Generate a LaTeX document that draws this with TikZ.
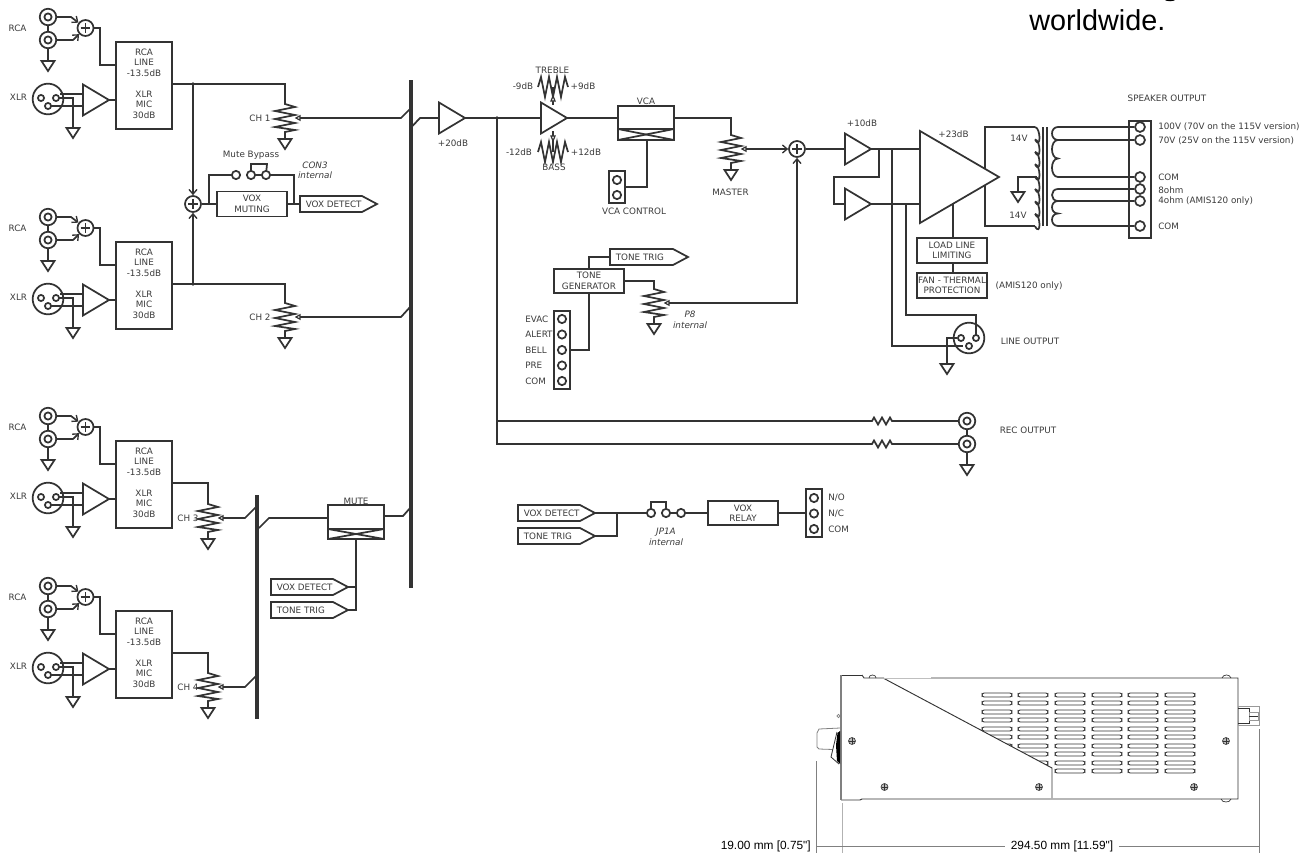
\documentclass[tikz,border=0pt]{standalone}
\usepackage{fontspec}
\setmainfont{DejaVu Sans}
\newfontfamily\arialf{Liberation Sans}
\usetikzlibrary{arrows.meta,calc}
\definecolor{ink}{HTML}{333333}
\definecolor{txt}{HTML}{3a3a3a}
\tikzset{
  wire/.style={draw=ink,line width=1.3pt,line join=miter},
  inarrow/.style={wire,-{Straight Barb[length=3.5pt,width=6pt,line width=1pt]}},
  lbl/.style={font=\fontsize{6.6}{7.9}\selectfont,text=txt,inner sep=0pt,align=center},
  lblw/.style={lbl,anchor=west,align=left},
  ital/.style={lbl,font=\fontsize{6.6}{7.9}\selectfont\itshape},
  blk/.style={wire,fill=white,inner sep=0pt,align=center,text=txt,font=\fontsize{6.6}{7.9}\selectfont},
  bus/.style={draw=ink,line width=2.6pt},
  pinc/.style={circle,wire,fill=white,minimum size=6.2pt,inner sep=0pt},
  term/.style={circle,wire,fill=white,minimum size=7.4pt,inner sep=0pt},
  jout/.style={circle,wire,fill=white,minimum size=12.4pt,inner sep=0pt},
  jin/.style={circle,wire,fill=white,minimum size=5.4pt,inner sep=0pt},
  xlrb/.style={circle,wire,fill=white,minimum size=23pt,inner sep=0pt},
  xpin/.style={circle,wire,fill=white,minimum size=4.6pt,inner sep=0pt},
  sumj/.style={circle,wire,fill=white,minimum size=12pt,inner sep=0pt,
    path picture={\draw[wire] ($(path picture bounding box.center)+(-3.6pt,0)$)--($(path picture bounding box.center)+(3.6pt,0)$);
                  \draw[wire] ($(path picture bounding box.center)+(0,-3.6pt)$)--($(path picture bounding box.center)+(0,3.6pt)$);}},
  dots/.style={circle,fill=ink,minimum size=2.8pt,inner sep=0pt},
  pics/gnd/.style={code={
    \coordinate (top) at (0,0);
    \draw[wire,fill=white] (-6.5,0)--(6.5,0)--(0,10)--cycle;}},
  pics/jack/.style={code={
    \node[jout] (o) at (0,0) {};
    \node[jin] (i) at (0,0) {};}},
  pics/amp/.style={code={
    \draw[wire,fill=white] (0,-15.5)--(0,15.5)--(26,0)--cycle;
    \coordinate (in) at (0,0);
    \coordinate (out) at (26,0);}},
  pics/pot/.style={code={
    \draw[wire] (0,-16)--(0,-14)--(10,-11)--(-10,-7)--(10,-3)--(-10,1)--(10,5)--(-10,9)--(10,12)--(0,14)--(0,21);
    \coordinate (top) at (0,-16);
    \draw[wire,line width=.9pt,fill=white] (11,0)--(15,-2.2)--(15,2.2)--cycle;
    \coordinate (wiper) at (15,0);
    \draw[wire,fill=white] (-6.5,21)--(6.5,21)--(0,31)--cycle;}},
  pics/hzig/.style={code={
    \draw[wire] (-15,#1)--(-12,-10)--(-8,10)--(-4,-10)--(0,10)--(4,-10)--(8,10)--(12,-10)--(15,#1);}},
  pics/tag/.style 2 args={code={
    \draw[wire,fill=white] (0,-8)--(#1,-8)--({#1+15},0)--(#1,8)--(0,8)--cycle;
    \coordinate (tip) at ({#1+15},0);
    \coordinate (tl) at (0,0);
    \node[lbl,anchor=west] (t) at (5.5,0) {#2};}},
}
\newcommand{\chan}[2]{%
  \pic (#1ja) at (48,{#2+17}) {jack};
  \pic (#1jb) at (48,{#2+40}) {jack};
  \pic (#1ga) at (48,{#2+61}) {gnd};
  \draw[wire] (#1jao) -- (#1jbo);
  \draw[wire] (#1jbo) -- (#1gatop);
  \node[sumj] (#1s) at (85.5,{#2+28}) {};
  \draw[inarrow] (#1jao) -- (71,{#2+17}) -- (#1s);
  \draw[inarrow] (#1jbo) -- (73,{#2+40}) -- (#1s);
  \node[blk,minimum width=42pt,minimum height=65.25pt] (#1box) at (144,{#2+85.5}) {};
  \coordinate (#1out) at (172,{#2+84});
  \coordinate (#1in) at (116,{#2+65});
  \coordinate (#1ai) at (116,{#2+100});
  \draw[wire] (#1s) -| (100,{#2+65}) -- (#1in);
  \node[lbl] (#1ta) at (144,{#2+62.5}) {RCA\\LINE\\-13.5dB};
  \node[lbl] (#1tb) at (144,{#2+104.5}) {XLR\\MIC\\30dB};
  \node[lbl] (#1rl) at (17.5,{#2+28}) {RCA};
  \node[lbl] (#1xl) at (18.5,{#2+97}) {XLR};
  \node[xlrb] (#1x) at (48,{#2+99}) {};
  \draw[wire] (60,{#2+94}) -- (83,{#2+94});
  \draw[wire] (48,{#2+106}) -- (83,{#2+106});
  \pic (#1gb) at (73,{#2+128}) {gnd};
  \draw[wire] (56,{#2+98}) -| (#1gbtop);
  \node[xpin] (#1xa) at (41,{#2+98}) {};
  \node[xpin] (#1xb) at (56,{#2+98}) {};
  \node[xpin] (#1xc) at (48,{#2+106}) {};
  \pic (#1a) at (83,{#2+100}) {amp};
  \draw[wire] (#1aout) -- (#1ai);
}
\begin{document}
\begin{tikzpicture}[x=0.75pt,y=-0.75pt]
\useasboundingbox (0,0) rectangle (1307,853);
% header fragment
\node[inner sep=0pt,anchor=base west,font=\arialf\fontsize{21.6}{24}\selectfont,text=black] (world) at (1029,31) {worldwide.};
\fill[black] (1163.5,-1) .. controls (1166,2) and (1174,2) .. (1176.5,-1) -- cycle;

% ===== input channels =====
\chan{ca}{0}
\chan{cb}{200}
\chan{cc}{399}
\chan{cd}{569}

% buses
\coordinate (busAt) at (411,80);
\coordinate (busAb) at (411,588);
\coordinate (busBt) at (257,495);
\coordinate (busBb) at (257,719);
\draw[bus] (busAt) -- (busAb);
\draw[bus] (busBt) -- (busBb);

% pots
\pic (pa) at (285,118) {pot};
\pic (pb) at (285,317) {pot};
\pic (pc) at (208,518) {pot};
\pic (pd) at (208,687) {pot};
\node[lbl] (cha) at (260,118) {CH 1};
\node[lbl] (chb) at (260,317) {CH 2};
\node[lbl] (chc) at (188,518) {CH 3};
\node[lbl] (chd) at (188,687) {CH 4};
\draw[wire] (caout) -| (patop);
\draw[wire] (cbout) -| (pbtop);
\draw[wire] (ccout) -| (pctop);
\draw[wire] (cdout) -| (pdtop);
\coordinate (sa1) at (401,118); \coordinate (sa2) at (411,108);
\coordinate (sb1) at (401,317); \coordinate (sb2) at (411,306);
\coordinate (sc1) at (245,518); \coordinate (sc2) at (257,506);
\coordinate (sd1) at (245,687); \coordinate (sd2) at (257,675);
\draw[wire] (pawiper) -- (sa1) -- (sa2);
\draw[wire] (pbwiper) -- (sb1) -- (sb2);
\draw[wire] (pcwiper) -- (sc1) -- (sc2);
\draw[wire] (pdwiper) -- (sd1) -- (sd2);

% mix / vox muting
\coordinate (ja) at (193,84);
\coordinate (jb) at (193,284);
\node[sumj] (mix) at (193,204) {};
\draw[inarrow] (ja) -- (mix);
\draw[inarrow] (jb) -- (mix);
\node[dots] (jad) at (ja) {};
\node[dots] (jbd) at (jb) {};
\node[blk,minimum width=52.5pt,minimum height=18.75pt] (voxm) at (252,204) {VOX\\MUTING};
\draw[wire] (mix) -- (voxm);
\pic (vd) at (300,204) {tag={62}{VOX DETECT}};
\draw[wire] (voxm) -- (vdtl);
\node[pinc] (mba) at (236,175) {};
\node[pinc] (mbb) at (251,175) {};
\node[pinc] (mbc) at (266,175) {};
\draw[wire] (209,204) -- (209,175) -- (mba);
\draw[wire] (mbb) -- (mbc);
\draw[wire] (mbb) -- (251,164) -- (267,164) -- (mbc);
\draw[wire] (mbc) -- (294,175) -- (294,204);
\node[lbl] (mbt) at (251,155) {Mute Bypass};
\node[ital] (con3) at (315,170.5) {CON3\\internal};

% mute block
\node[blk,minimum width=42pt,minimum height=25.5pt] (mute) at (356,522) {};
\draw[wire] (328,529) -- (384,529);
\draw[wire] (328,529) -- (384,539);
\draw[wire] (328,539) -- (384,529);
\node[lbl] (mutel) at (356,501) {MUTE};
\coordinate (msa) at (259,528); \coordinate (msb) at (269,518);
\draw[wire] (msa) -- (msb) -- (mute.west |- msb);
\coordinate (mo) at (403,516); \coordinate (mob) at (411,507);
\draw[wire] (mute.east |- mo) -- (mo) -- (mob);
\pic (mvd) at (271,587) {tag={62}{VOX DETECT}};
\pic (mtt) at (271,610) {tag={62}{TONE TRIG}};
\coordinate (mctl) at (356,610);
\draw[wire] (mute.south -| mctl) -- (mctl) -- (mtttip);
\draw[wire] (mvdtip) -- (356,587);

% main path
\coordinate (msa2) at (412.5,126); \coordinate (msb2) at (420,118);
\pic (a20) at (439,118) {amp};
\node[lbl] (a20t) at (453,143) {+20dB};
\draw[wire] (msa2) -- (msb2) -- (a20in);
\pic (atone) at (541,118) {amp};
\draw[wire] (a20out) -- (atonein);
\coordinate (jr) at (497,118);
\node[dots] (jrd) at (jr) {};
\node[blk,minimum width=42pt,minimum height=25.5pt] (vca) at (646,123) {};
\draw[wire] (618,129) -- (674,129);
\draw[wire] (618,129) -- (674,140);
\draw[wire] (618,140) -- (674,129);
\node[lbl] (vcal) at (646,101) {VCA};
\draw[wire] (atoneout) -- (618,118);
% tone controls
\pic (tre) at (553,87) {hzig={0}};
\pic (bas) at (553,152) {hzig={0}};
\draw[wire,line width=.9pt] (553,87) -- (553,105);
\draw[wire,line width=.9pt,fill=white] (553,96) -- (551,101) -- (555,101) -- cycle;
\draw[wire,line width=.9pt] (553,131) -- (553,152);
\draw[wire,line width=.9pt,fill=white] (553,141) -- (551,136) -- (555,136) -- cycle;
\node[lbl] (tret) at (552.5,70.5) {TREBLE};
\node[lbl] (trem) at (523,86) {-9dB};
\node[lbl] (trep) at (583,86) {+9dB};
\node[lbl] (bast) at (554,167) {BASS};
\node[lbl] (basm) at (519,152) {-12dB};
\node[lbl] (basp) at (586,152) {+12dB};
% vca control
\node[blk,minimum width=12pt,minimum height=24pt] (vcc) at (617,187) {};
\node[pinc] (vcca) at (617,180) {};
\node[pinc] (vccb) at (617,195) {};
\draw[wire] (647,140) -- (647,187) -- (625,187);
\node[lbl] (vcct) at (634,211) {VCA CONTROL};
% master
\pic (pm) at (731,149) {pot};
\node[lbl] (mast) at (730.5,192) {MASTER};
\draw[wire] (674,118) -| (pmtop);
\node[sumj] (sumo) at (797,149) {};
\draw[inarrow] (pmwiper) -- (sumo);
% tone gen
\pic (ttt) at (610,257) {tag={63}{TONE TRIG}};
\node[blk,minimum width=52.5pt,minimum height=18pt] (tg) at (589,281) {TONE\\GENERATOR};
\draw[wire] (tg.north) |- (ttttl);
\pic (p8) at (654,303) {pot};
\draw[wire] (tg.east) -| (p8top);
\draw[inarrow] (p8wiper) -| (sumo);
\node[ital] (p8t) at (690,320) {P8\\internal};
\node[blk,minimum width=12pt,minimum height=58.5pt] (tcon) at (562,350) {};
\foreach \n/\yy/\tt in {a/319/EVAC,b/334.5/ALERT,c/350/BELL,d/365.5/PRE,e/381/COM}{
  \node[pinc] (tc\n) at (562,\yy) {};
  \node[lblw] (tl\n) at (525,\yy) {\tt};
}
\draw[wire] (tcon.east) -| (tg.south);

% rec outputs
\pic (ra) at (967,421) {jack};
\pic (rb) at (967,444) {jack};
\pic (rg) at (967,465) {gnd};
\draw[wire] (rao) -- (rbo);
\draw[wire] (rbo) -- (rgtop);
\coordinate (r1) at (869,421);
\coordinate (r2) at (895,421);
\coordinate (r3) at (869,444);
\coordinate (r4) at (895,444);
\draw[wire] (jr) -- (497,444) -- (r3);
\draw[wire] (497,421) -- (r1);
\draw[wire] (r1) -- (872,421) -- (874,417.5) -- (878,424.5) -- (882,417.5) -- (886,424.5) -- (890,417.5) -- (892,421) -- (r2) -- (rao);
\draw[wire] (r3) -- (872,444) -- (874,440.5) -- (878,447.5) -- (882,440.5) -- (886,447.5) -- (890,440.5) -- (892,444) -- (r4) -- (rbo);
\node[lbl] (rect) at (1028,430) {REC OUTPUT};

% vox relay
\pic (rvd) at (518,513) {tag={62}{VOX DETECT}};
\pic (rtt) at (518,536) {tag={62}{TONE TRIG}};
\node[pinc] (jpa) at (651,513) {};
\node[pinc] (jpb) at (666,513) {};
\node[pinc] (jpc) at (681,513) {};
\draw[wire] (rvdtip) -- (jpa);
\draw[wire] (rtttip) -- (617,536) -- (617,513);
\draw[wire] (jpb) -- (jpc);
\draw[wire] (jpa) -- (651,502) -- (666,502) -- (jpb);
\node[ital] (jpt) at (666,537) {JP1A\\internal};
\node[blk,minimum width=52.5pt,minimum height=18pt] (vr) at (743,513) {VOX\\RELAY};
\draw[wire] (jpc) -- (vr);
\node[blk,minimum width=12pt,minimum height=36pt] (vrc) at (814,513) {};
\draw[wire] (vr) -- (vrc);
\foreach \n/\yy/\tt in {a/498/N\slash O,b/513.5/N\slash C,c/529/COM}{
  \node[pinc] (vp\n) at (814,\yy) {};
  \node[lblw] (vl\n) at (828,\yy) {\tt};
}

% ===== output stage =====
\pic (a10) at (845,149) {amp};
\pic (a10b) at (845,204) {amp};
\node[lbl] (a10t) at (862,123) {+10dB};
\draw[wire] (sumo) -- (a10in);
\draw[wire] (879,149) -- (879,177) -- (834,177) -- (834,204) -- (a10bin);
% transformer
\draw[wire] (1035,127) -- (985,127) -- (985,226) -- (1035,226);
\draw[wire] (1035,127)
  foreach \i in {0,...,7} { .. controls +(6,1) and +(6,11.4) .. +(0,12.4) ++(0,12.4) };
\draw[wire] (1037,177) -- (1018,177) -- (1018,192);
\pic (tg0) at (1018,192) {gnd};
\draw[wire] (1043,127) -- (1043,226);
\draw[wire] (1047,127) -- (1047,226);
\draw[wire] (1058,127) .. controls (1050,127) and (1050,140) .. (1058,140)
  .. controls (1050,140) and (1050,158.5) .. (1058,158.5)
  .. controls (1050,158.5) and (1050,177) .. (1058,177);
\draw[wire] (1058,189) .. controls (1050,189) and (1050,201) .. (1058,201)
  .. controls (1050,201) and (1050,213.5) .. (1058,213.5)
  .. controls (1050,213.5) and (1050,226) .. (1058,226);
\node[blk,minimum width=16.5pt,minimum height=87.75pt] (spk) at (1140,179.5) {};
\foreach \n/\yy in {a/127,b/140,c/177,d/189,e/201,f/226}{
  \node[term] (st\n) at (1140,\yy) {};
  \draw[wire] (1058,\yy) -- (st\n);
}
\node[lbl] (v14a) at (1019,138) {14V};
\node[lbl] (v14b) at (1018,215) {14V};
\node[lbl] (spkt) at (1167,98) {SPEAKER OUTPUT};
\node[lblw] (sla) at (1158,127) {100V (70V on the 115V version)};
\node[lblw] (slb) at (1158,141) {70V (25V on the 115V version)};
\node[lblw] (slc) at (1158,177) {COM};
\node[lblw] (sld) at (1158,190.5) {8ohm};
\node[lblw] (sle) at (1158,201) {4ohm (AMIS120 only)};
\node[lblw] (slf) at (1158,226) {COM};
% big amp
\coordinate (bi1) at (920,149);
\coordinate (bi2) at (920,204);
\coordinate (bb) at (953,204);
\draw[wire,fill=white] (920,131) -- (920,223) -- (999,177) -- cycle;
\node[lbl] (a23) at (953.5,134) {+23dB};
\draw[wire] (a10out) -- (bi1);
\draw[wire] (a10bout) -- (bi2);
% load line
\node[blk,minimum width=52.5pt,minimum height=18.75pt] (ll) at (952,250.5) {LOAD LINE\\LIMITING};
\node[blk,minimum width=52.5pt,minimum height=18.75pt] (fan) at (952,285.5) {FAN - THERMAL\\PROTECTION};
\draw[wire] (bb) -- (953,238);
\draw[wire] (ll.south -| bb) -- (fan.north -| bb);
\node[lbl] (aml) at (1029,286) {(AMIS120 only)};
% line output
\draw[wire] (892,149) -- (892,346) -- (960,346);
\draw[wire] (906,204) -- (906,315) -- (976,315) -- (976,332);
\node[xlrb] (lox) at (969,338) {};
\draw[wire] (892,346) -- (963,346);
\draw[wire] (976,322) -- (976,335);
\node[xpin] (loa) at (961,338) {};
\node[xpin] (lob) at (976,338) {};
\node[xpin] (loc) at (969,346) {};
\pic (log) at (947,364) {gnd};
\draw[wire] (loa) -- (947,338) -- (logtop);
\node[lbl] (lot) at (1030,341) {LINE OUTPUT};

% ===== chassis =====
\begin{scope}
  % vents
  \foreach \xx in {982,1018,1055,1092,1128,1165}{
    \foreach \yy in {695,703,712,720,729,737,746,754,763,771}{
      \draw[draw=ink,rounded corners=1.6pt,line width=.7pt] (\xx,{\yy-2}) rectangle ({\xx+30},{\yy+2});
    }
  }
  \fill[white] (884,678.5) -- (1052,768) -- (1052,798) -- (862,798) -- (862,678.5) -- cycle;
  \draw[draw=ink,line width=.7pt] (884,678.5) -- (1052,768) -- (1052,798);
  \draw[draw=ink,line width=.7pt] (862,675) -- (864,678) -- (884,678);
  \draw[draw=gray!50,line width=.7pt] (884,678) -- (931,678);
  \draw[draw=ink,line width=.7pt] (931,678) -- (1238,678) -- (1238,799) -- (862,799) -- (860,800) -- (841,800);
  \draw[draw=ink,line width=.7pt] (841,675) -- (862,675);
  \draw[draw=gray,line width=2pt] (841,675) -- (841,800);
  \draw[draw=ink,line width=.5pt] (869,678) .. controls (869,674) and (876,674) .. (876,678);
  \draw[draw=ink,line width=.5pt] (1222,678) .. controls (1223,674) and (1230,674) .. (1231,678);
  \draw[draw=ink,line width=.5pt] (1221,799) .. controls (1222,803) and (1230,803) .. (1231,799);
  % screws
  \foreach \xx/\yy in {852/741,884.5/787,1039/787,1194/787,1226/741}{
    \draw[draw=ink,line width=.5pt,fill=gray!50] (\xx,\yy) circle (2.6pt);
    \draw[draw=ink,line width=.3pt] ({\xx-3},\yy) -- ({\xx+3},\yy) ({\xx},{\yy-3}) -- (\xx,{\yy+3});
  }
  % knob
  \draw[draw=gray,line width=.5pt] (838.5,716) circle (1.2pt);
  \draw[draw=gray,line width=.6pt] (840,728) -- (819,729) -- (817,733) -- (817,747) -- (819,749) -- (833,749.5);
  \draw[draw=ink,line width=.6pt,fill=white] (837,732) -- (831,757) -- (839,764);
  \fill[black] (840,731) -- (837.5,733) -- (836,745) -- (837,761) -- (840,764) -- cycle;
  % rear connector
  \draw[draw=gray!80,line width=.6pt] (1238,706) rectangle (1259,725);
  \draw[draw=ink,line width=.7pt] (1238,708) -- (1249,708) -- (1249,723) -- (1238,723);
  \draw[draw=gray!80,line width=.6pt] (1249,712) rectangle (1258,720);
  \draw[draw=ink,line width=.6pt] (1249,716) -- (1258,716);
\end{scope}
% dimensions
\coordinate (da) at (816,761);
\coordinate (db) at (816,853);
\coordinate (dc) at (842,803);
\coordinate (dd) at (842,853);
\coordinate (de) at (1259,729);
\coordinate (df) at (1259,853);
\draw[gray,line width=.6pt] (da) -- (db);
\draw[gray!60,line width=.7pt] (dc) -- (dd);
\draw[gray,line width=.6pt] (de) -- (df);
\node[inner sep=0pt,anchor=east,font=\arialf\fontsize{8.9}{10}\selectfont,text=black] (dl) at (811,846) {19.00 mm [0.75"]};
\node[inner sep=4pt,font=\arialf\fontsize{8.9}{10}\selectfont,text=black] (dm) at (1062,846) {294.50 mm [11.59"]};
\draw[gray,line width=.6pt] (da |- dm.west) -- (dm.west);
\draw[gray,line width=.6pt] (dm.east) -- (de |- dm.east);
\end{tikzpicture}
\end{document}
